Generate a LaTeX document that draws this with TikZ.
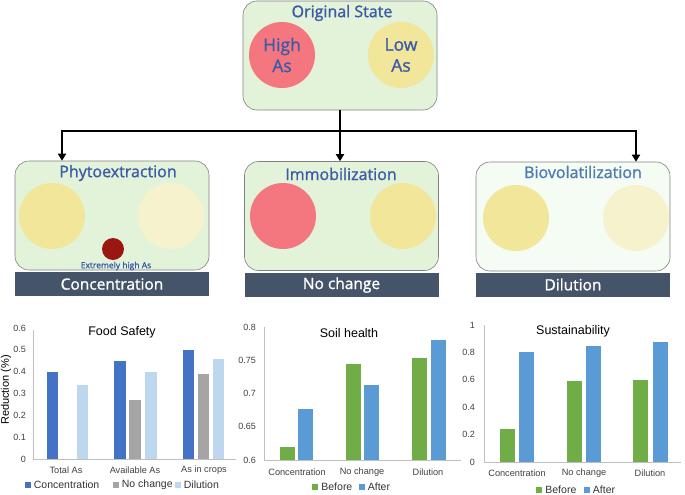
\documentclass[tikz,border=0pt]{standalone}
\usepackage{fontspec}
\setmainfont{Liberation Sans}
\newfontfamily\boxfont[FakeBold=1.2]{Open Sans}
\usetikzlibrary{arrows.meta}
\definecolor{boxgreen}{HTML}{E2F3DA}
\definecolor{boxpale}{HTML}{F4FCF4}
\definecolor{redAs}{HTML}{F4777F}
\definecolor{yellowAs}{HTML}{F1E69A}
\definecolor{paleAs}{HTML}{F6F2CD}
\definecolor{darkAs}{HTML}{9A1711}
\definecolor{titleblue}{HTML}{3D5AA8}
\definecolor{bioblue}{HTML}{4E7BB0}
\definecolor{banner}{HTML}{46546A}
\definecolor{conc}{HTML}{4472C4}
\definecolor{nc}{HTML}{A5A5A5}
\definecolor{dil}{HTML}{BDD7EE}
\definecolor{before}{HTML}{70AD47}
\definecolor{after}{HTML}{5B9BD5}
\definecolor{axisgray}{HTML}{BFBFBF}
\begin{document}
\begin{tikzpicture}[x=1pt,y=-1pt,
  panel/.style={draw=gray, line width=0.6pt, rounded corners=14pt, fill=boxgreen,
    minimum width=194pt, minimum height=109pt, inner sep=0pt},
  blob/.style={circle, minimum size=66pt, inner sep=0pt},
  boxtitle/.style={font=\boxfont\fontsize{16}{16}\selectfont, text=titleblue, inner sep=0pt},
  astext/.style={font=\boxfont\fontsize{17.5}{21}\selectfont, text=titleblue, align=center},
  strip/.style={fill=banner, minimum width=194pt, minimum height=24pt, inner sep=0pt,
    font=\boxfont\fontsize{15.5}{15.5}\selectfont, text=white},
  link/.style={line width=2.4pt, -{Triangle[width=8pt,length=7pt]}},
  tick/.style={anchor=east, font=\fontsize{9}{9}\selectfont, text=black!75, inner sep=0pt},
  cat/.style={font=\fontsize{9.2}{9.2}\selectfont, text=black!75, inner sep=0pt},
  charttitle/.style={font=\fontsize{12.5}{12.5}\selectfont, inner sep=0pt},
  key/.style={minimum size=6pt, inner sep=0pt},
  legtxt/.style={anchor=west, font=\fontsize{10.5}{10.5}\selectfont, text=black!80, inner sep=0pt},
  axis/.style={axisgray, line width=0.7pt}]
\useasboundingbox (0,0) rectangle (685,495);

\node [panel] (orig) at (340,55.5) {};
\node [boxtitle] (origtitle) at (342,13) {Original State};
\node [blob, fill=redAs] (high) at (282,55) {};
\node [astext] at (high) {High\\As};
\node [blob, fill=yellowAs] (low) at (401,55) {};
\node [astext] at (low) {Low\\As};

\node [panel] (phyto) at (112,215.5) {};
\node [boxtitle] (phytotitle) at (118,173) {Phytoextraction};
\node [blob, fill=yellowAs] (phytoA) at (52,216) {};
\node [blob, fill=paleAs] (phytoB) at (171,216) {};
\node [circle, fill=darkAs, minimum size=22pt, inner sep=0pt] (hot) at (113,249) {};
\node [font=\boxfont\fontsize{8.5}{8.5}\selectfont, text=titleblue, inner sep=0pt] (hotlabel) at (116,266) {Extremely high As};
\node [strip] (concbar) at (112,284) {Concentration};

\node [panel] (imm) at (341.5,216) {};
\node [boxtitle] (immtitle) at (341,174) {Immobilization};
\node [blob, fill=redAs] (immA) at (283,216) {};
\node [blob, fill=yellowAs] (immB) at (403,216) {};
\node [strip] (ncbar) at (341.5,285) {No change};

\node [panel, fill=boxpale] (bio) at (573,216.5) {};
\node [boxtitle, text=bioblue] (biotitle) at (583,172) {Biovolatilization};
\node [blob, fill=yellowAs] (bioA) at (516,218) {};
\node [blob, fill=paleAs] (bioB) at (636,218) {};
\node [strip] (dilbar) at (573,284.5) {Dilution};

\coordinate (hubL) at (62,131);
\coordinate (hubR) at (636,131);
\draw [link] (orig.south) |- (hubL) -- (hubL |- phyto.north);
\draw [link] (orig.south) |- (hubR) -- (hubR |- bio.north);
\draw [link] (orig.south) -- (orig.south |- imm.north);

\draw [axis] (33,330) -- (33,459) -- (236,459);
\foreach \t [count=\i from 0] in {0,0.1,0.2,0.3,0.4,0.5,0.6}
  \node [tick] (fsy\i) at (26,{459-\i*21.83}) {\t};
\foreach \x/\v/\c in {52.5/0.40/conc,82.5/0.34/dil,120/0.45/conc,135/0.27/nc,151/0.40/dil,
    188.5/0.50/conc,203.5/0.39/nc,218.5/0.46/dil}
  \fill [\c] (\x-5.75,459) rectangle (\x+5.75,{459-\v*218.3});
\foreach \x/\t [count=\i] in {66/Total As,135/Available As,204/As in crops}
  \node [cat] (fsx\i) at (\x,470) {\t};
\node [charttitle] (fstitle) at (122,332) {Food Safety};
\node [rotate=90, font=\fontsize{11}{11}\selectfont, inner sep=0pt] (fsylab) at (6,390) {Reduction (\%)};
\foreach \x/\c/\t [count=\i] in {27.5/conc/Concentration,115.5/nc/No change,177.5/dil/Dilution}{
  \node [key, fill=\c] (fsk\i) at (\x,485) {};
  \node [legtxt] (fsl\i) at ([xshift=3pt]fsk\i.east) {\t};
}

\draw [axis] (264,327) -- (264,460) -- (461,460);
\foreach \t [count=\i from 0] in {0.6,0.65,0.7,0.75,0.8}
  \node [tick] (shy\i) at (256,{460-\i*33.25}) {\t};
\foreach \x/\v/\c in {287.5/0.619/before,305.5/0.677/after,353.5/0.745/before,371.5/0.713/after,
    419.5/0.753/before,438.5/0.780/after}
  \fill [\c] (\x-7.5,460) rectangle (\x+7.5,{460-(\v-0.6)*665});
\foreach \x/\t [count=\i] in {297/Concentration,362/No change,428/Dilution}
  \node [cat] (shx\i) at (\x,472) {\t};
\node [charttitle] (shtitle) at (349,333) {Soil health};
\foreach \x/\c/\t [count=\i] in {315/before/Before,361.5/after/After}{
  \node [key, fill=\c] (shk\i) at (\x,487) {};
  \node [legtxt] (shl\i) at ([xshift=3pt]shk\i.east) {\t};
}

\draw [axis] (484,325) -- (484,462) -- (681,462);
\foreach \t [count=\i from 0] in {0,0.2,0.4,0.6,0.8,1}
  \node [tick] (suy\i) at (475,{462-\i*27.4}) {\t};
\foreach \x/\v/\c in {507.5/0.24/before,526.5/0.80/after,574.5/0.59/before,593.5/0.845/after,
    640.5/0.595/before,660/0.875/after}
  \fill [\c] (\x-7.5,462) rectangle (\x+7.5,{462-\v*137});
\foreach \x/\t [count=\i] in {517/Concentration,584/No change,650/Dilution}
  \node [cat] (sux\i) at (\x,473) {\t};
\node [charttitle] (sutitle) at (573,331) {Sustainability};
\foreach \x/\c/\t [count=\i] in {539/before/Before,586.5/after/After}{
  \node [key, fill=\c] (suk\i) at (\x,490) {};
  \node [legtxt] (sul\i) at ([xshift=3pt]suk\i.east) {\t};
}
\end{tikzpicture}
\end{document}
